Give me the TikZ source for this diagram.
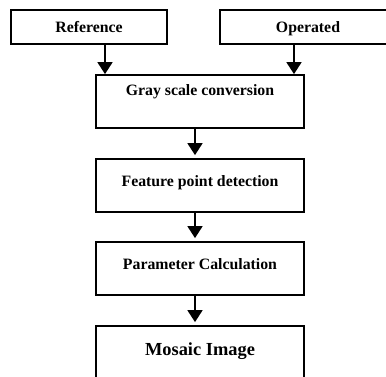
\documentclass[tikz,border=0pt]{standalone}
\usepackage{fontspec}
\setmainfont{Liberation Serif}
\usetikzlibrary{arrows.meta}

\begin{document}
\begin{tikzpicture}[x=1pt,y=1pt,
  box/.style={draw, line width=1.8pt, inner sep=0pt, minimum width=208pt, minimum height=53pt,
    text height=11pt, text depth=10pt, font=\fontsize{15.8}{18}\selectfont\bfseries},
  inbox/.style={box, minimum height=34pt, text depth=0pt},
  arr/.style={-{Triangle[width=15pt,length=12pt]}, line width=1.8pt}]
\useasboundingbox (0,0) rectangle (386,376);
\clip (0,0) rectangle (386,376);

% input images
\node[inbox, minimum width=156pt] (ref) at (89,349) {Reference};
\node[inbox, minimum width=176pt] (op) at (308,349) {Operated};

% processing steps
\node[box, text depth=24pt] (gray) at (200,274.5) {Gray scale conversion};
\node[box] (feat) at (200,190.5) {Feature point detection};
\node[box] (param) at (200,107.5) {Parameter Calculation};
\node[box, minimum height=56pt, text height=13pt, text depth=11pt,
  font=\fontsize{18.4}{20}\selectfont\bfseries] (mosaic) at (200,22) {Mosaic Image};

% arrows
\draw[arr] ([xshift=16pt]ref.south) -- ([xshift=16pt]ref.south |- gray.north);
\draw[arr] ([xshift=-14pt]op.south) -- ([xshift=-14pt]op.south |- gray.north);
\draw[arr, shorten >=3pt] ([xshift=-5pt]gray.south) -- ([xshift=-5pt]feat.north);
\draw[arr, shorten >=3pt] ([xshift=-5pt]feat.south) -- ([xshift=-5pt]param.north);
\draw[arr, shorten >=3pt] ([xshift=-5pt]param.south) -- ([xshift=-5pt]mosaic.north);
\end{tikzpicture}
\end{document}
